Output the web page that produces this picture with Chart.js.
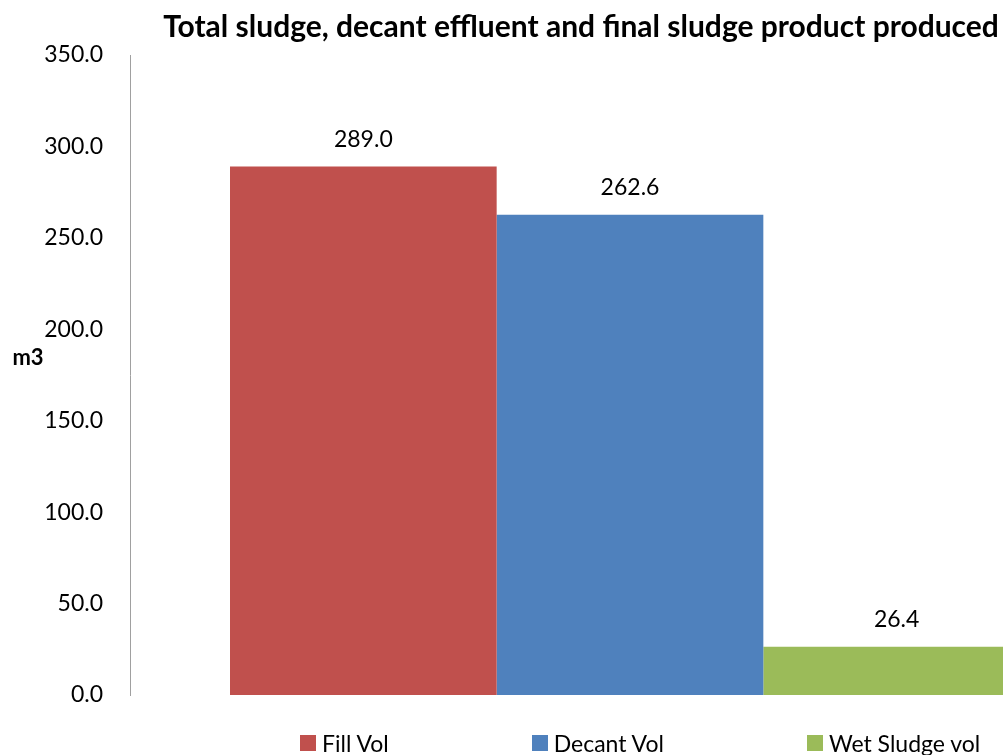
<!DOCTYPE html>
<html lang="en">
<head>
    <meta charset="UTF-8">
    <title>Total sludge, decant effluent and final sludge product produced</title>
    <script src="https://cdn.jsdelivr.net/npm/chart.js"></script>
    <style>
        * { margin: 0; padding: 0; box-sizing: border-box; }
        html, body { width: 1003px; height: 755px; overflow: hidden; background: #fff; }
        .wrap { position: relative; width: 1186px; height: 755px; }
        #chart { display: block; }
        /* legend sits under the plot, like the Excel one */
        .legend {
            position: absolute; left: 300px; top: 729px;
            display: flex; gap: 143px;
            font-family: Lato, sans-serif; font-size: 23px; color: #000;
            white-space: nowrap;
        }
        .legend span { display: flex; align-items: center; }
        .legend i { display: inline-block; width: 16px; height: 16px; margin-right: 6px; }
    </style>
</head>
<body>
<div class="wrap">
    <canvas id="chart" width="1186" height="755"></canvas>
    <div class="legend" id="legend"></div>
</div>

<script>
    // data
    const seriesNames = ['Fill Vol', 'Decant Vol', 'Wet Sludge vol'];
    const seriesValues = [289.0, 262.6, 26.4];
    const seriesColors = ['#C0504D', '#4F81BD', '#9BBB59'];
    const yTicks = [0, 50, 100, 150, 200, 250, 300, 350];

    const datasets = seriesNames.map(function (name, i) {
        return {
            label: name,
            data: [seriesValues[i]],
            backgroundColor: seriesColors[i],
            borderWidth: 0
        };
    });

    // value labels above each bar + horizontal "m3" axis title
    const extras = {
        id: 'extras',
        afterDatasetsDraw(chart) {
            const ctx = chart.ctx;
            ctx.save();
            ctx.fillStyle = '#000';
            ctx.font = '23px Lato';
            ctx.textAlign = 'center';
            ctx.textBaseline = 'middle';
            chart.data.datasets.forEach(function (ds, i) {
                const bar = chart.getDatasetMeta(i).data[0];
                ctx.fillText(ds.data[0].toFixed(1), bar.x, bar.y - 27);
            });
            ctx.font = 'bold 22px Lato';
            ctx.fillText('m3', 28, 358);
            ctx.restore();
        }
    };

    new Chart(document.getElementById('chart'), {
        type: 'bar',
        data: { labels: [''], datasets: datasets },
        options: {
            responsive: false,
            animation: false,
            layout: { padding: { left: 32, right: 56, top: 0, bottom: 60 } },
            datasets: { bar: { categoryPercentage: 0.8, barPercentage: 1.0 } },
            plugins: {
                legend: { display: false },
                tooltip: { enabled: false },
                title: {
                    display: true,
                    text: 'Total sludge, decant effluent and final sludge product produced',
                    color: '#000',
                    font: { family: 'Lato', size: 30, weight: 'bold' },
                    padding: { top: 9, bottom: 10 }
                }
            },
            scales: {
                x: { display: false },
                y: {
                    min: 0,
                    max: 350,
                    afterFit: function (scale) { scale.width = 98; },
                    afterBuildTicks: function (scale) {
                        scale.ticks = yTicks.map(function (v) { return { value: v }; });
                    },
                    grid: { display: false, drawTicks: false },
                    border: { display: true, color: '#A0A0A0', width: 1 },
                    ticks: {
                        padding: 27,
                        color: '#000',
                        font: { family: 'Lato', size: 23 },
                        callback: function (v) { return Number(v).toFixed(1); }
                    }
                }
            }
        },
        plugins: [extras]
    });

    // legend entries from the same arrays
    const legend = document.getElementById('legend');
    seriesNames.forEach(function (name, i) {
        const item = document.createElement('span');
        const box = document.createElement('i');
        box.style.background = seriesColors[i];
        item.appendChild(box);
        item.appendChild(document.createTextNode(name));
        legend.appendChild(item);
    });
</script>
</body>
</html>
